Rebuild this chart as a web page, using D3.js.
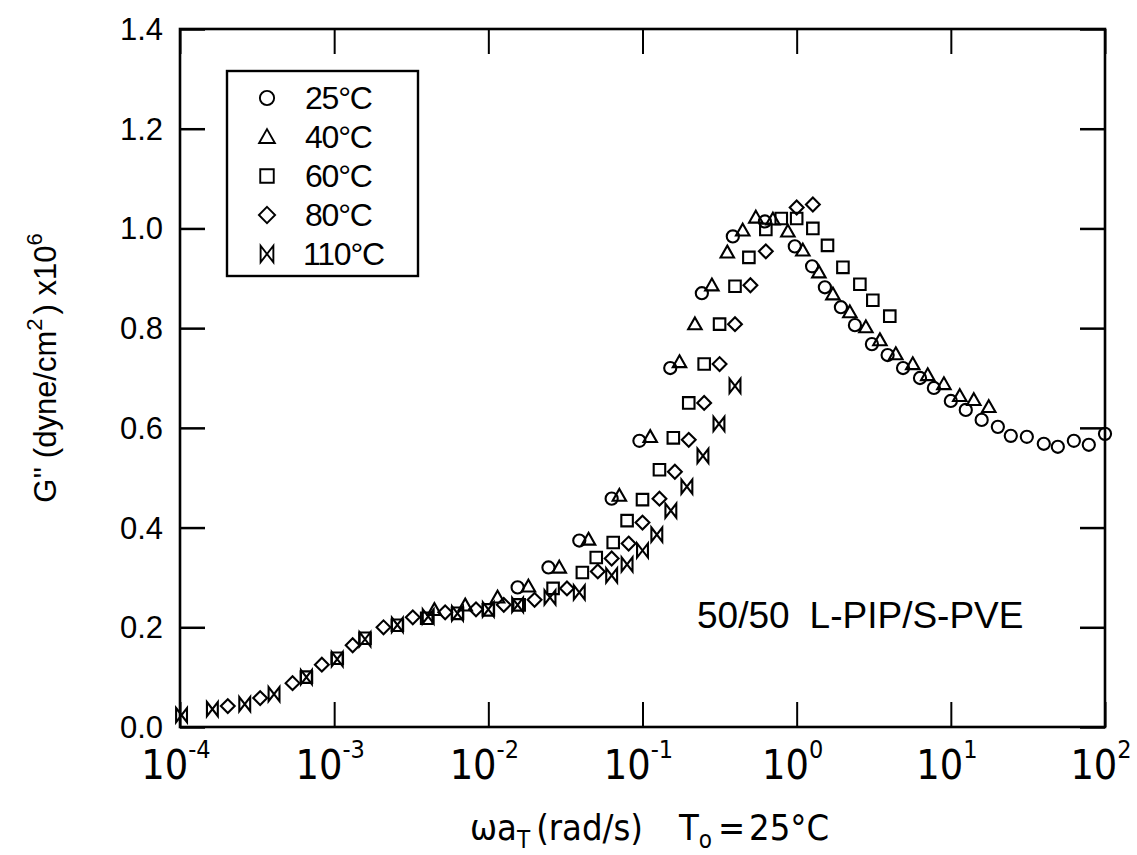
<!DOCTYPE html>
<html>
<head>
<meta charset="utf-8">
<script src="https://cdn.jsdelivr.net/npm/d3@7"></script>
<style>
  body { margin: 0; background: #fff; }
  svg { display: block; }
</style>
</head>
<body>
<div id="vis"></div>
<script>
const FRAME_WIDTH = 1137;
const FRAME_HEIGHT = 855;
const MARGINS = {left: 180, right: 32, top: 29, bottom: 128};

// data: log10(omega a_T) and G'' (x10^6 dyne/cm^2)
const series = ["25°C", "40°C", "60°C", "80°C", "110°C"];

const logW_25 = [-1.81, -1.61, -1.41, -1.2, -1.02, -0.82, -0.615, -0.414, -0.206, -0.012, 0.1, 0.183, 0.287, 0.378, 0.488, 0.59, 0.69, 0.8, 0.89, 1.0, 1.097, 1.2, 1.305, 1.389, 1.493, 1.603, 1.694, 1.798, 1.895, 2.0];
const G_25 = [0.28, 0.32, 0.374, 0.458, 0.574, 0.72, 0.87, 0.984, 1.014, 0.964, 0.924, 0.882, 0.842, 0.806, 0.768, 0.746, 0.72, 0.70, 0.68, 0.654, 0.636, 0.616, 0.602, 0.584, 0.582, 0.568, 0.562, 0.574, 0.566, 0.588];

const logW_40 = [-2.35, -2.15, -1.94, -1.74, -1.54, -1.35, -1.15, -0.95, -0.76, -0.66, -0.55, -0.45, -0.35, -0.265, -0.154, -0.057, 0.04, 0.144, 0.235, 0.345, 0.449, 0.54, 0.643, 0.753, 0.85, 0.955, 1.058, 1.149, 1.246];
const G_40 = [0.235, 0.244, 0.26, 0.282, 0.32, 0.376, 0.464, 0.582, 0.732, 0.808, 0.886, 0.952, 0.996, 1.022, 1.018, 0.994, 0.956, 0.912, 0.868, 0.832, 0.802, 0.776, 0.748, 0.728, 0.706, 0.688, 0.664, 0.656, 0.642];

const logW_60 = [-3.18, -2.98, -2.8, -2.59, -2.4, -2.2, -2.0, -1.8, -1.58, -1.39, -1.3, -1.19, -1.1, -1.0, -0.89, -0.8, -0.7, -0.6, -0.5, -0.4, -0.31, -0.2, -0.1, 0.0, 0.105, 0.2, 0.3, 0.41, 0.494, 0.604];
const G_60 = [0.1, 0.138, 0.178, 0.204, 0.218, 0.228, 0.235, 0.245, 0.278, 0.31, 0.34, 0.37, 0.414, 0.456, 0.516, 0.58, 0.65, 0.728, 0.808, 0.884, 0.942, 0.998, 1.02, 1.02, 1.0, 0.966, 0.922, 0.888, 0.856, 0.824];

const logW_80 = [-3.69, -3.48, -3.27, -3.08, -2.88, -2.68, -2.49, -2.28, -2.08, -1.9, -1.7, -1.49, -1.29, -1.2, -1.09, -1.0, -0.89, -0.79, -0.7, -0.6, -0.5, -0.4, -0.3, -0.2, 0.0, 0.105];
const G_80 = [0.042, 0.058, 0.088, 0.125, 0.164, 0.2, 0.22, 0.23, 0.236, 0.245, 0.255, 0.278, 0.312, 0.338, 0.368, 0.41, 0.458, 0.512, 0.576, 0.65, 0.728, 0.808, 0.886, 0.954, 1.042, 1.048];

const logW_110 = [-3.99, -3.79, -3.58, -3.39, -3.18, -2.98, -2.8, -2.59, -2.39, -2.2, -2.0, -1.81, -1.6, -1.41, -1.2, -1.1, -1.0, -0.907, -0.816, -0.712, -0.608, -0.504, -0.4];
const G_110 = [0.024, 0.036, 0.046, 0.066, 0.1, 0.136, 0.176, 0.205, 0.222, 0.228, 0.236, 0.245, 0.26, 0.27, 0.304, 0.326, 0.354, 0.386, 0.434, 0.482, 0.544, 0.608, 0.684];

const xTicks = [-4, -3, -2, -1, 0, 1, 2];
const yTicks = [0, 0.2, 0.4, 0.6, 0.8, 1.0, 1.2, 1.4];

const allLogW = [logW_25, logW_40, logW_60, logW_80, logW_110];
const allG = [G_25, G_40, G_60, G_80, G_110];

const svg = d3.select("#vis")
  .append("svg")
    .attr("width", FRAME_WIDTH)
    .attr("height", FRAME_HEIGHT);

const X_SCALE = d3.scaleLog()
  .domain([1e-4, 1e2])
  .range([MARGINS.left, FRAME_WIDTH - MARGINS.right]);

const Y_SCALE = d3.scaleLinear()
  .domain([0, 1.4])
  .range([FRAME_HEIGHT - MARGINS.bottom, MARGINS.top]);

const x0 = X_SCALE.range()[0], x1 = X_SCALE.range()[1];
const y0 = Y_SCALE.range()[0], y1 = Y_SCALE.range()[1];

// marker shapes: circle, triangle, square, diamond, bowtie
function markerPath(i, s) {
  switch (i) {
    case 1: return `M0,${-s*1.05} L${s*1.05},${s*0.8} L${-s*1.05},${s*0.8} Z`;
    case 2: return `M${-s*0.9},${-s*0.9} H${s*0.9} V${s*0.9} H${-s*0.9} Z`;
    case 3: return `M0,${-s*1.08} L${s*1.08},0 L0,${s*1.08} L${-s*1.08},0 Z`;
    case 4: return `M${-s*0.85},${-s*1.1} L${s*0.85},${s*1.1} L${s*0.85},${-s*1.1} L${-s*0.85},${s*1.1} Z`;
  }
}

function drawMarker(g, i, s) {
  if (i === 0) {
    g.append("circle").attr("r", s * 0.95);
  } else {
    g.append("path").attr("d", markerPath(i, s));
  }
}

// points
allLogW.forEach((lw, i) => {
  const pts = lw.map((v, j) => ({w: Math.pow(10, v), g: allG[i][j]}));
  svg.append("g")
    .attr("fill", "none")
    .attr("stroke", "#000")
    .attr("stroke-width", 2.1)
    .selectAll("g")
    .data(pts)
    .enter()
    .append("g")
      .attr("transform", d => "translate(" + X_SCALE(d.w) + "," + Y_SCALE(d.g) + ")")
      .each(function() { drawMarker(d3.select(this), i, 6.4); });
});

// axes, ticks pointing inward
const tickW = xTicks.map(e => Math.pow(10, e));

svg.append("g")
  .attr("transform", "translate(0," + y0 + ")")
  .call(d3.axisBottom(X_SCALE).tickValues(tickW).tickSize(-25).tickFormat(""))
  .call(g => g.select(".domain").remove())
  .selectAll("line").attr("stroke-width", 2);

svg.append("g")
  .attr("transform", "translate(0," + y1 + ")")
  .call(d3.axisTop(X_SCALE).tickValues(tickW).tickSize(-25).tickFormat(""))
  .call(g => g.select(".domain").remove())
  .selectAll("line").attr("stroke-width", 2);

svg.append("g")
  .attr("transform", "translate(" + x0 + ",0)")
  .call(d3.axisLeft(Y_SCALE).tickValues(yTicks).tickSize(-25).tickFormat(""))
  .call(g => g.select(".domain").remove())
  .selectAll("line").attr("stroke-width", 2.5);

svg.append("g")
  .attr("transform", "translate(" + x1 + ",0)")
  .call(d3.axisRight(Y_SCALE).tickValues(yTicks).tickSize(-25).tickFormat(""))
  .call(g => g.select(".domain").remove())
  .selectAll("line").attr("stroke-width", 2.5);

// frame
svg.append("rect")
  .attr("x", x0).attr("y", y1)
  .attr("width", x1 - x0).attr("height", y0 - y1)
  .attr("fill", "none")
  .attr("stroke", "#000")
  .attr("stroke-width", 2.6);

// y tick labels
svg.append("g")
  .selectAll("text")
  .data(yTicks)
  .enter()
  .append("text")
    .attr("x", x0 - 17)
    .attr("y", d => Y_SCALE(d) + 11)
    .attr("text-anchor", "end")
    .attr("font-family", "'Liberation Sans', Arial, sans-serif")
    .attr("font-size", 31)
    .text(d => d.toFixed(1));

// x tick labels: 10^n
const xLab = svg.append("g")
  .attr("font-family", "'Liberation Sans Narrow', 'DejaVu Sans Condensed', sans-serif")
  .selectAll("text")
  .data(xTicks)
  .enter()
  .append("text")
    .attr("x", d => X_SCALE(Math.pow(10, d)) - 4)
    .attr("y", y0 + 52)
    .attr("text-anchor", "middle")
    .attr("font-size", 41);
xLab.append("tspan").text("10");
xLab.append("tspan")
  .attr("font-size", 25)
  .attr("dy", -21)
  .text(d => d);

// x title
const xt = svg.append("text")
  .attr("x", 470)
  .attr("y", 840)
  .attr("font-family", "'Liberation Sans Narrow', 'DejaVu Sans Condensed', sans-serif")
  .attr("font-size", 36);
xt.append("tspan").text("ωa");
xt.append("tspan").attr("font-size", 24).attr("dy", 8).text("T");
xt.append("tspan").attr("dy", -8).attr("dx", 6).text("(rad/s)");
xt.append("tspan").attr("dx", 36).text("T");
xt.append("tspan").attr("font-size", 24).attr("dy", 8).text("o");
xt.append("tspan").attr("dy", -8).attr("dx", 6).text("=");
xt.append("tspan").attr("dx", 4).text("25°C");

// y title
const yt = svg.append("text")
  .attr("transform", "translate(56," + ((y0 + y1) / 2 - 10) + ") rotate(-90)")
  .attr("text-anchor", "middle")
  .attr("font-family", "'Liberation Sans', Arial, sans-serif")
  .attr("font-size", 31);
yt.append("tspan").text("G'' (dyne/cm");
yt.append("tspan").attr("font-size", 22).attr("dy", -14).text("2");
yt.append("tspan").attr("dy", 14).attr("dx", 4).text(") x10");
yt.append("tspan").attr("font-size", 22).attr("dy", -14).text("6");

// annotation
const ann = svg.append("text")
  .attr("x", 697)
  .attr("y", 628)
  .attr("font-family", "'Liberation Sans', Arial, sans-serif")
  .attr("font-size", 37);
ann.append("tspan").text("50/50");
ann.append("tspan").attr("dx", 20).text("L-PIP/S-PVE");

// legend
const LEG = {x: 227, y: 71, w: 191, h: 205};
svg.append("rect")
  .attr("x", LEG.x).attr("y", LEG.y)
  .attr("width", LEG.w).attr("height", LEG.h)
  .attr("fill", "#fff")
  .attr("stroke", "#000")
  .attr("stroke-width", 2.4);

const legRows = svg.append("g")
  .selectAll("g")
  .data(series)
  .enter()
  .append("g")
    .attr("transform", (d, i) => "translate(" + (LEG.x + 40) + "," + (LEG.y + 27 + i * 39) + ")");

legRows.each(function(d, i) {
  const m = d3.select(this).append("g")
    .attr("fill", "none")
    .attr("stroke", "#000")
    .attr("stroke-width", 1.9);
  drawMarker(m, i, 7.5);
});

legRows.append("text")
  .attr("x", d => d === "110°C" ? 36 : 38)
  .attr("y", 11)
  .attr("font-family", "'Liberation Sans', Arial, sans-serif")
  .attr("font-size", 32)
  .attr("letter-spacing", -1.2)
  .text(d => d);
</script>
</body>
</html>
